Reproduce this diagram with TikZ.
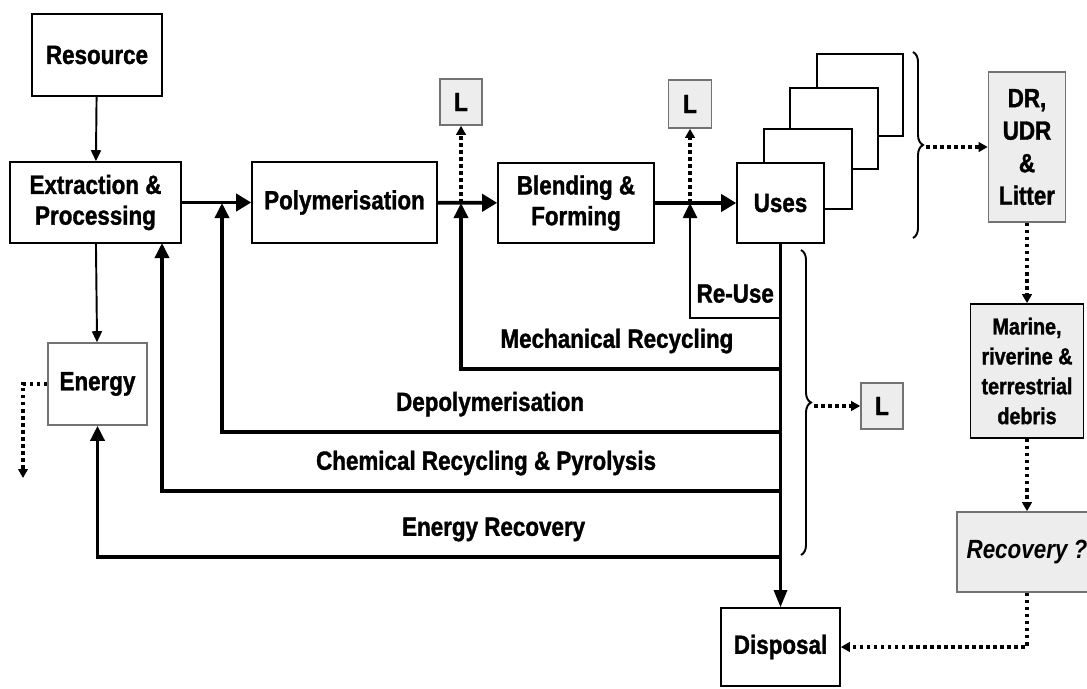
\documentclass[tikz,border=0pt]{standalone}
\usepackage{fontspec}
\setmainfont{Liberation Sans}[FakeStretch=0.85, BoldFeatures={FakeBold=1.3}]
\usetikzlibrary{arrows.meta, decorations.pathreplacing}
\definecolor{mygrey}{rgb}{0.93,0.93,0.93}
\definecolor{myborder}{rgb}{0.45,0.45,0.45}

\begin{document}
\begin{tikzpicture}[x=0.2mm, y=-0.2mm,
    >={Triangle[length=3mm,width=2.8mm]},
    every node/.style={font=\fontsize{15}{17.5}\selectfont\bfseries, align=center},
    box/.style={draw, line width=0.9pt, inner sep=0pt, fill=white},
    lossbox/.style={box, draw=myborder, fill=mygrey},
    link/.style={->, line width=1.1pt, >={Triangle[length=2.2mm,width=2mm]}},
    mainflow/.style={->, line width=2.2pt, >={Triangle[length=3mm,width=3.4mm]}},
    back/.style={->, line width=2pt},
    leak/.style={->, line width=2pt, dash pattern=on 2pt off 2pt,
                 >={Triangle[length=1.8mm,width=1.9mm]}},
    curly/.style={decorate, decoration={brace, amplitude=2mm}, line width=1.1pt}]
  \useasboundingbox (0,0) rectangle (1087,688);

  % process chain
  \node[box, minimum width=26mm,   minimum height=16.4mm] (Res) at (97,55)      {Resource};
  \node[box, minimum width=34.2mm, minimum height=16.2mm] (Ext) at (95.5,202.5) {Extraction \&\\Processing};
  \node[box, minimum width=37mm,   minimum height=16.2mm] (Pol) at (344.5,202.5){Polymerisation};
  \node[box, minimum width=31.2mm, minimum height=16mm]   (Ble) at (576,203)    {Blending \&\\Forming};
  \draw[box] (817,54) rectangle (903,136);
  \draw[box] (790,88) rectangle (878,169);
  \draw[box] (764,129) rectangle (852,209);
  \node[box, minimum width=17.4mm, minimum height=16mm]   (Use) at (780.5,203)  {Uses};
  \node[box, draw=myborder, minimum width=19.8mm, minimum height=16.4mm] (Ene) at (97.5,384) {Energy};
  \node[box, minimum width=23.8mm, minimum height=15.6mm] (Dis) at (780.5,647)  {Disposal};

  % losses and litter
  \node[lossbox, minimum width=8.4mm, minimum height=9.2mm] (L1) at (461,102) {L};
  \node[lossbox, minimum width=8.6mm, minimum height=9.6mm] (L2) at (690,104) {L};
  \node[lossbox, minimum width=8.4mm, minimum height=9.2mm] (L3) at (882,406) {L};
  \node[lossbox, minimum width=15.4mm, minimum height=30mm, font=\fontsize{15}{18.5}\selectfont\bfseries]
       (DR) at (1027,147) {DR,\\UDR\\\&\\Litter};
  \node[box, fill=mygrey, minimum width=22.6mm, minimum height=26.8mm, font=\fontsize{13.2}{17}\selectfont\bfseries]
       (Mar) at (1027,371) {Marine,\\riverine \&\\terrestrial\\debris};
  \node[lossbox, minimum width=28mm, minimum height=16mm, font=\fontsize{15}{17.5}\selectfont\bfseries\itshape]
       (Rec) at (1027,552) {Recovery ?};

  % junctions
  \coordinate (j0) at (162,243);
  \coordinate (j1) at (222,203);
  \coordinate (j2) at (461,203);
  \coordinate (j3) at (690,203);
  \coordinate (tRe) at (780.5,318);
  \coordinate (tMe) at (780.5,369);
  \coordinate (tDe) at (780.5,432);
  \coordinate (tCh) at (780.5,491);
  \coordinate (tEn) at (780.5,557);
  \coordinate (sb1) at (913,52);
  \coordinate (sb2) at (913,238);
  \coordinate (sbt) at (926,147);
  \coordinate (ub1) at (801,250);
  \coordinate (ub2) at (801,555);
  \coordinate (ubt) at (814,406);
  \coordinate (eOut) at (23,478);

  \draw[link] (Res) -- (Ext);
  \draw[link] (Ext) -- (Ene);
  \draw[mainflow] (Ext) -- (Pol);
  \draw[mainflow] (Pol) -- (Ble);
  \draw[mainflow, line width=2.8pt] (Ble) -- (Use);
  \draw[back, line width=1.6pt, >={Triangle[length=3.4mm,width=2.6mm]}] (Use) -- (Dis);

  \draw[back, line width=1.5pt] (tRe) -| node[pos=0.25, above=1.6mm] (lRe) {Re-Use} (j3);
  \draw[back] (tMe) -| node[pos=0.256, above=1.6mm] (lMe) {Mechanical Recycling} (j2);
  \draw[back] (tDe) -| node[pos=0.26, above=1.6mm] (lDe) {Depolymerisation} (j1);
  \draw[back] (tCh) -| node[pos=0.238, above=1.6mm] (lCh) {Chemical Recycling \& Pyrolysis} (j0);
  \draw[back] (tEn) -| node[pos=0.21, above=1.6mm] (lEn) {Energy Recovery} (Ene);

  \draw[leak] (j2) -- (L1);
  \draw[leak] (j3) -- (L2);
  \draw[curly] (sb1) -- (sb2);
  \draw[curly] (ub1) -- (ub2);
  \draw[leak] (sbt) -- (DR);
  \draw[leak] (ubt) -- (L3);
  \draw[leak] (DR) -- (Mar);
  \draw[leak] (Mar) -- (Rec);
  \draw[leak] (Rec) |- (Dis);
  \draw[leak] (Ene) -| (eOut);
\end{tikzpicture}
\end{document}
